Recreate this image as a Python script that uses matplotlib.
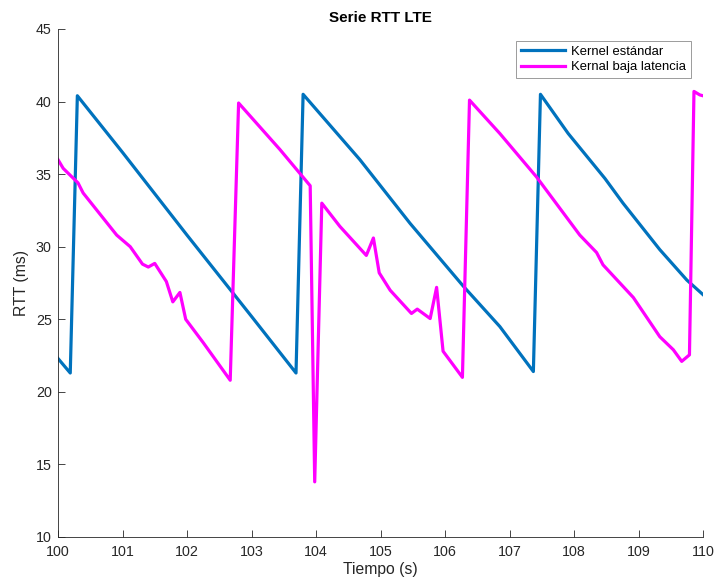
import matplotlib
matplotlib.use("Agg")
from matplotlib import pyplot as plt

plt.rcParams["font.family"] = ["Liberation Sans", "DejaVu Sans"]

# Kernel estándar (blue)
t_std = [100.00, 100.19, 100.30, 101.00, 102.00, 103.00, 103.69, 103.80, 104.68, 105.46,
         106.28, 106.85, 107.37, 107.48, 107.91, 108.48, 108.76, 109.33, 109.75, 110.00]
rtt_std = [22.3, 21.3, 40.4, 36.5, 30.8, 25.2, 21.3, 40.5, 36.0, 31.6,
           27.3, 24.5, 21.4, 40.5, 37.8, 34.7, 33.0, 29.8, 27.7, 26.7]

# Kernal baja latencia (magenta)
t_low = [100.00, 100.08, 100.31, 100.39, 100.91, 101.12, 101.31, 101.40, 101.50, 101.68,
         101.78, 101.89, 101.98, 102.25, 102.67, 102.80, 103.44, 103.91, 103.98, 104.09,
         104.37, 104.78, 104.89, 104.98, 105.15, 105.48, 105.57, 105.77, 105.87, 105.97,
         106.27, 106.38, 106.85, 107.42, 108.09, 108.35, 108.45, 108.92, 109.33, 109.54,
         109.67, 109.79, 109.86, 109.95, 110.00]
rtt_low = [36.0, 35.4, 34.4, 33.7, 30.8, 30.0, 28.8, 28.6, 28.85, 27.6,
           26.2, 26.85, 25.0, 23.4, 20.8, 39.9, 36.7, 34.2, 13.8, 33.0,
           31.4, 29.4, 30.6, 28.2, 27.0, 25.4, 25.7, 25.05, 27.2, 22.8,
           21.0, 40.1, 37.8, 34.8, 30.8, 29.6, 28.75, 26.5, 23.8, 22.9,
           22.1, 22.55, 40.7, 40.46, 40.4]

series_labels = ["Kernel estándar", "Kernal baja latencia"]
x_ticks = list(range(100, 111))
y_ticks = list(range(10, 46, 5))

fig = plt.figure(figsize=(7.14, 5.81), dpi=100)
ax = fig.add_axes([58 / 714, 44 / 581, 645 / 714, 508 / 581])

ax.plot(t_std, rtt_std, color="#0072BD", linewidth=2.3, label=series_labels[0])
ax.plot(t_low, rtt_low, color="#FF00FF", linewidth=2.3, label=series_labels[1])

ax.set_xlim(100, 110)
ax.set_ylim(10, 45)
ax.set_xticks(x_ticks)
ax.set_yticks(y_ticks)
ax.tick_params(direction="in", length=4.7, width=0.6, colors="#262626", labelsize=10.3)
ax.tick_params(axis="x", pad=6)
ax.tick_params(axis="y", pad=4.5)
for side in ("top", "right"):
    ax.spines[side].set_visible(False)
for side in ("left", "bottom"):
    ax.spines[side].set_color("#262626")
    ax.spines[side].set_linewidth(0.6)

ax.set_xlabel("Tiempo (s)", fontsize=11.3, color="#262626", labelpad=2)
ax.set_ylabel("RTT (ms)", fontsize=11.3, color="#262626", labelpad=5)
ax.set_title("Serie RTT LTE", fontsize=11, fontweight="bold", pad=5)

leg = ax.legend(loc="upper right", bbox_to_anchor=(0.981, 0.976), borderaxespad=0,
                fontsize=9.4, handlelength=3.4, handletextpad=0.45, labelspacing=0.25,
                borderpad=0.35, fancybox=False, framealpha=1, edgecolor="#8c8c8c")
leg.get_frame().set_linewidth(0.6)

fig.savefig("out.png", dpi=100)
